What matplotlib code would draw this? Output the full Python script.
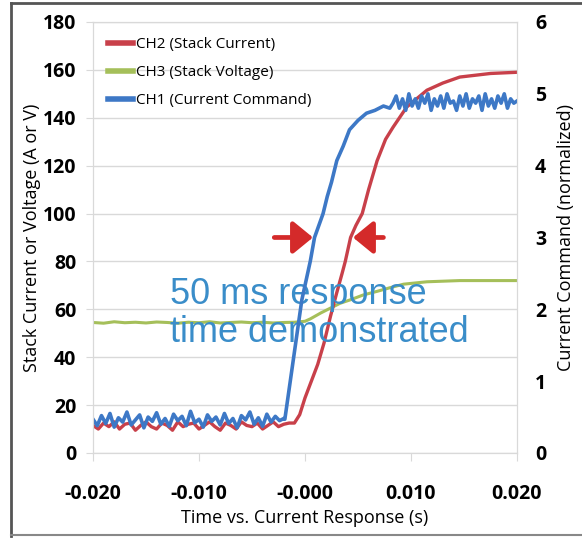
import matplotlib
matplotlib.use("Agg")
import matplotlib.pyplot as plt
import numpy as np
from matplotlib.lines import Line2D

plt.rcParams["font.family"] = ["Open Sans", "DejaVu Sans"]

# CH1 current command (normalized, right axis)
ch1_base_t = np.linspace(-0.020, -0.002, 46)
ch1_base_v = [0.47, 0.38, 0.52, 0.41, 0.55, 0.36, 0.49, 0.43, 0.57, 0.39,
              0.46, 0.53, 0.35, 0.50, 0.44, 0.56, 0.40, 0.48, 0.37, 0.54,
              0.45, 0.51, 0.38, 0.58, 0.42, 0.47, 0.36, 0.53, 0.44, 0.50,
              0.39, 0.55, 0.41, 0.48, 0.35, 0.52, 0.46, 0.57, 0.40, 0.49,
              0.37, 0.54, 0.43, 0.51, 0.45, 0.48]
ch1_rise_t = [-0.0019, -0.0011, -0.0003, 0.0005, 0.0009, 0.0017, 0.0021, 0.0025,
              0.0030, 0.0036, 0.0042, 0.0050, 0.0058, 0.0066, 0.0074, 0.0080]
ch1_rise_v = [0.47, 1.30, 2.13, 2.67, 3.00, 3.33, 3.57, 3.77,
              4.07, 4.27, 4.50, 4.63, 4.73, 4.77, 4.83, 4.80]
ch1_flat_t = np.linspace(0.0083, 0.0200, 40)
ch1_flat_v = [4.87, 4.97, 4.80, 4.93, 4.77, 5.00, 4.83, 4.93, 4.80, 4.97,
              4.87, 5.00, 4.77, 4.93, 4.83, 4.97, 4.80, 5.00, 4.87, 4.90,
              4.77, 4.97, 4.83, 5.00, 4.80, 4.93, 4.87, 4.97, 4.77, 5.00,
              4.83, 4.93, 4.80, 4.97, 4.87, 5.00, 4.80, 4.93, 4.87, 4.90]

# CH2 stack current (A)
ch2_base_t = np.linspace(-0.020, -0.0015, 38)
ch2_base_v = [11.5, 10, 12.5, 11, 13, 10, 12, 12.5, 9.5, 11.5,
              13, 11, 10, 12.5, 11.5, 9.5, 13, 11, 12, 12.5,
              10, 11.5, 13, 11, 9.5, 12.5, 11.5, 10, 13, 11.5,
              11, 12.5, 10, 11.5, 13, 11, 12, 12.5]
ch2_rise_t = [-0.0010, -0.0005, 0.0000, 0.0006, 0.0012, 0.0018, 0.0024, 0.0030,
              0.0035, 0.0038, 0.0043, 0.0048, 0.0054, 0.0060, 0.0068, 0.0076,
              0.0083, 0.0096, 0.0115, 0.0130, 0.0146, 0.0175, 0.0200]
ch2_rise_v = [12.5, 16, 23, 30, 37, 46, 57, 67,
              75, 80, 90, 95, 100, 110, 122, 131,
              136, 144.5, 151.5, 154.5, 157, 158.5, 159]

# CH3 stack voltage (V)
ch3_base_t = np.linspace(-0.020, -0.001, 20)
ch3_base_v = [54.5, 54.2, 54.8, 54.4, 54.6, 54.3, 54.7, 54.5, 54.2, 54.6,
              54.4, 54.8, 54.3, 54.5, 54.7, 54.4, 54.6, 54.3, 54.5, 54.6]
ch3_rise_t = [0.0000, 0.0005, 0.0015, 0.0024, 0.0033, 0.0043, 0.0055,
              0.0068, 0.0080, 0.0093, 0.0115, 0.0146, 0.0200]
ch3_rise_v = [55, 56, 58.5, 60.5, 62.5, 64, 66, 67.5, 69, 70.5, 71.5, 72, 72]

xticks = [-0.020, -0.010, 0.000, 0.010, 0.020]
xticklabels = ["-0.020", "-0.010", "-0.000", "0.010", "0.020"]

red = "#c8404a"
green = "#a5bf5a"
blue = "#3d78c6"
grid = "#d9d9d9"

fig = plt.figure(figsize=(5.82, 5.39), dpi=100)
ax = fig.add_axes([0.1598, 0.1596, 0.7285, 0.7996])
ax2 = ax.twinx()

t3 = np.concatenate([ch3_base_t, ch3_rise_t])
v3 = np.concatenate([ch3_base_v, ch3_rise_v])
t2 = np.concatenate([ch2_base_t, ch2_rise_t])
v2 = np.concatenate([ch2_base_v, ch2_rise_v])
t1 = np.concatenate([ch1_base_t, ch1_rise_t, ch1_flat_t])
v1 = np.concatenate([ch1_base_v, ch1_rise_v, ch1_flat_v])

l3, = ax.plot(t3, v3, color=green, lw=2.2, label="CH3 (Stack Voltage)")
l2, = ax.plot(t2, v2, color=red, lw=2.4, label="CH2 (Stack Current)")
l1, = ax2.plot(t1, v1, color=blue, lw=2.6, label="CH1 (Current Command)")

ax.set_xlim(-0.020, 0.020)
ax.set_ylim(0, 180)
ax2.set_ylim(0, 6)
ax.set_yticks(np.arange(0, 181, 20))
ax2.set_yticks(np.arange(0, 7, 1))
ax.set_xticks(xticks)
ax.set_xticklabels(xticklabels)

ax.grid(axis="y", color=grid, lw=1)
ax.set_axisbelow(True)
for a in (ax, ax2):
    for s in a.spines.values():
        s.set_color(grid)
ax.tick_params(axis="x", length=6, color=grid, pad=16, labelsize=14)
ax.tick_params(axis="y", length=5, color=grid, pad=7, labelsize=14)
ax2.tick_params(axis="y", length=0, pad=13, labelsize=14)
for lab in ax.get_xticklabels() + ax.get_yticklabels() + ax2.get_yticklabels():
    lab.set_fontweight("bold")

ax.set_xlabel("Time vs. Current Response (s)", fontsize=13, labelpad=4)
ax.set_ylabel("Stack Current or Voltage (A or V)", fontsize=13, labelpad=1)
ax2.set_ylabel("Current Command (normalized)", fontsize=13, labelpad=8)

# response time arrows
arrow = dict(arrowstyle="-|>,head_length=0.55,head_width=0.45", color="#d42a2a",
             lw=3.4, mutation_scale=22, shrinkA=0, shrinkB=0)
ax.annotate("", xy=(0.00075, 90), xytext=(-0.00290, 90), arrowprops=arrow)
ax.annotate("", xy=(0.00453, 90), xytext=(0.00740, 90), arrowprops=arrow)

ax.text(-0.01274, 66, "50 ms response", color="#3a8dc9", fontsize=26,
        family=["Liberation Sans", "DejaVu Sans"], va="center", ha="left", zorder=5)
ax.text(-0.01274, 50.5, "time demonstrated", color="#3a8dc9", fontsize=26,
        family=["Liberation Sans", "DejaVu Sans"], va="center", ha="left", zorder=5)

leg = ax2.legend(handles=[l2, l3, l1], loc="upper left", frameon=False,
                 fontsize=11, handlelength=1.6, handletextpad=0.2,
                 labelspacing=0.85, borderaxespad=0.6)
for h in leg.get_lines():
    h.set_linewidth(4)

# figure frame
fc = "#555555"
fig.add_artist(Line2D([11 / 582, 11 / 582], [3 / 539, 536 / 539], color=fc, lw=2))
fig.add_artist(Line2D([11 / 582, 1.0], [536 / 539, 536 / 539], color=fc, lw=2))
fig.add_artist(Line2D([11 / 582, 1.0], [4 / 539, 4 / 539], color="#888888", lw=1.5))

fig.savefig("out.png", dpi=100)
